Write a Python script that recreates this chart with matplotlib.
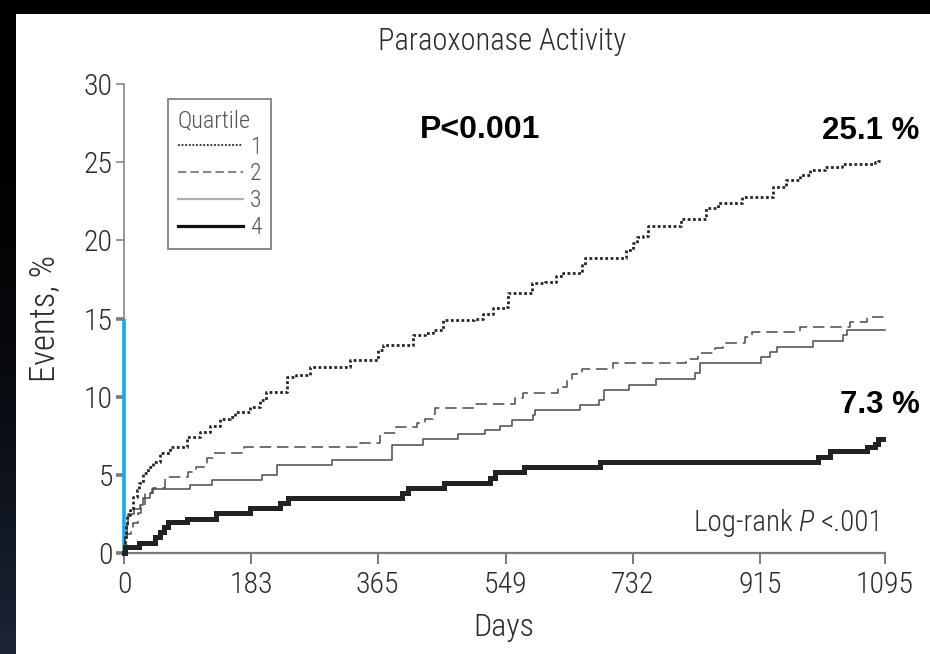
import numpy as np
import matplotlib
matplotlib.use("Agg")
import matplotlib.pyplot as plt
from matplotlib import font_manager as fm
from matplotlib.font_manager import FontProperties
from matplotlib.lines import Line2D
from matplotlib.patches import Rectangle

# ---- fonts: prefer a light/condensed sans for the chart text ----------------
def _pick_condensed(italic=False):
    want_style = "italic" if italic else "normal"
    entries = fm.fontManager.ttflist
    prefs = [
        lambda e: e.name == "Roboto Condensed" and e.weight in (300, "light"),
        lambda e: e.name == "Roboto Condensed" and e.weight in (400, "normal", "regular"),
        lambda e: e.name == "Roboto Condensed",
        lambda e: e.name == "Liberation Sans Narrow",
        lambda e: "Condensed" in e.name and "Open Sans" in e.name,
        lambda e: e.name == "DejaVu Sans" and e.stretch in ("condensed", "semi-condensed")
                  and e.weight in (400, "normal", "book", "regular"),
        lambda e: e.name == "DejaVu Sans" and e.stretch in ("condensed", "semi-condensed"),
    ]
    for pref in prefs:
        hits = [e for e in entries if pref(e)]
        styled = [e for e in hits if e.style == want_style]
        if styled:
            return styled[0].fname
        if hits and not italic:
            return hits[0].fname
    return None

_reg = _pick_condensed()
_ita = _pick_condensed(italic=True)

def nfont(size, italic=False):
    path = _ita if italic else _reg
    if path:
        return FontProperties(fname=path, size=size)
    return FontProperties(family="DejaVu Sans", size=size,
                          style="italic" if italic else "normal")

BOLD = "Liberation Sans"
plt.rcParams["font.family"] = ["DejaVu Sans"]

# ---- data: cumulative events (%) by paraoxonase activity quartile ---------
q1_days = [0, 1, 3, 5, 9, 13, 18, 22, 28, 35, 42, 52, 66, 90, 109, 124, 138,
           153, 160, 181, 196, 205, 234, 248, 268, 325, 366, 373, 416, 433,
           445, 459, 503, 517, 531, 548, 553, 587, 606, 622, 632, 659, 663,
           723, 733, 738, 747, 754, 802, 838, 855, 889, 934, 953, 973, 987,
           1009, 1033, 1080, 1085, 1090]
q1_vals = [0, 1.0, 1.8, 2.4, 2.75, 3.6, 4.0, 4.5, 5.1, 5.5, 5.84, 6.4, 6.8,
           7.45, 7.76, 8.1, 8.6, 8.7, 9.0, 9.36, 9.79, 10.3, 11.28, 11.39,
           11.9, 12.35, 13.0, 13.3, 13.95, 14.05, 14.27, 14.9, 15.0, 15.3,
           15.66, 15.76, 16.6, 17.25, 17.36, 17.7, 17.9, 18.4, 18.85, 19.4,
           19.8, 20.2, 20.3, 20.9, 21.35, 22.05, 22.4, 22.8, 23.4, 23.86,
           24.2, 24.5, 24.7, 24.9, 25.0, 25.1, 25.1]

q2_days = [0, 2, 5, 10, 13, 20, 25, 30, 42, 59, 92, 104, 119, 128, 172, 340,
           368, 392, 421, 433, 445, 447, 507, 563, 574, 625, 637, 644, 659,
           704, 809, 826, 850, 862, 893, 903, 972, 1045, 1069, 1095]
q2_vals = [0, 0.5, 1.2, 1.6, 1.9, 2.54, 2.96, 3.82, 4.14, 4.88, 5.2, 5.52,
           6.06, 6.4, 6.8, 7.06, 7.66, 8.08, 8.3, 8.6, 8.9, 9.25, 9.5, 9.9,
           10.26, 10.6, 11.07, 11.45, 11.8, 12.14, 12.4, 12.77, 13.1, 13.42,
           13.8, 14.14, 14.44, 14.8, 15.08, 15.08]

q3_days = [0, 2, 4, 6, 15, 23, 28, 37, 40, 95, 126, 198, 220, 299, 385, 430,
           480, 520, 541, 558, 589, 591, 656, 683, 690, 726, 766, 822, 829,
           916, 930, 939, 992, 1035, 1040, 1095]
q3_vals = [0, 1.0, 1.8, 2.5, 2.8, 3.07, 3.5, 3.82, 4.08, 4.35, 4.7, 5.0, 5.63,
           5.95, 6.9, 7.3, 7.6, 7.87, 8.1, 8.5, 8.83, 9.15, 9.47, 9.8, 10.45,
           10.75, 11.1, 11.5, 12.15, 12.56, 12.86, 13.2, 13.55, 13.95, 14.27,
           14.27]

q4_days = [0, 2, 21, 45, 52, 57, 64, 90, 133, 181, 224, 236, 400, 409, 460,
           527, 534, 575, 685, 999, 1016, 1069, 1080, 1085, 1092]
q4_vals = [0, 0.4, 0.62, 1.04, 1.36, 1.68, 2.0, 2.2, 2.54, 2.86, 3.18, 3.5,
           3.82, 4.14, 4.5, 4.8, 5.2, 5.52, 5.84, 6.16, 6.5, 6.8, 7.0, 7.3,
           7.3]

x_ticks = [0, 183, 365, 549, 732, 915, 1095]
y_ticks = [0, 5, 10, 15, 20, 25, 30]
quartile_labels = ["1", "2", "3", "4"]

# ---- figure & framing --------------------------------------------------
W, H = 930, 654
fig = plt.figure(figsize=(W / 100, H / 100), dpi=100)
fig.patch.set_facecolor("black")

left_px, top_px = 15, 14
fig.add_artist(Rectangle((left_px / W, 0), 1 - left_px / W, 1 - top_px / H,
                         transform=fig.transFigure, facecolor="white",
                         edgecolor="none", zorder=0))

# dark strip on the left edge fading to navy at the bottom
strip = fig.add_axes([0, 0, left_px / W, 1 - top_px / H])
ramp = np.linspace(0, 1, 256) ** 2.2
top_c = np.array([0, 0, 0])
bot_c = np.array([0x1c, 0x26, 0x38]) / 255
grad = (top_c[None, :] * (1 - ramp[:, None]) + bot_c[None, :] * ramp[:, None])
strip.imshow(grad[:, None, :], aspect="auto", extent=[0, 1, 0, 1], origin="upper")
strip.set_axis_off()

ax_l, ax_r = 124 / W, 885 / W
ax_b, ax_t = 1 - 553 / H, 1 - 84 / H
ax = fig.add_axes([ax_l, ax_b, ax_r - ax_l, ax_t - ax_b])
ax.set_facecolor("none")
ax.set_xlim(0, 1095)
ax.set_ylim(0, 30)

# ---- curves ------------------------------------------------------------
ax.step(q3_days, q3_vals, where="post", color="#4a4a4a", lw=1.1,
        clip_on=False, zorder=3)
ax.step(q2_days, q2_vals, where="post", color="#4a4a4a", lw=1.1,
        dashes=(7.5, 3.8), clip_on=False, zorder=3)
ax.step(q1_days, q1_vals, where="post", color="#262626", lw=2.0,
        dashes=(1, 0.9), dash_capstyle="butt", clip_on=False, zorder=4)
ax.step(q4_days, q4_vals, where="post", color="#222222", lw=3.6,
        clip_on=False, zorder=5, solid_joinstyle="miter")

# ---- axes styling ------------------------------------------------------
GRAY = "#7a7a7a"
CYAN = "#0aaeea"
TXT = "#2b2b2b"
for s in ("top", "right"):
    ax.spines[s].set_visible(False)
ax.spines["bottom"].set_color(GRAY)
ax.spines["bottom"].set_linewidth(1.6)
ax.spines["left"].set_color(GRAY)
ax.spines["left"].set_linewidth(1.1)
ax.spines["left"].set_bounds(15, 30)
ax.plot([0, 0], [0, 15], color=CYAN, lw=2.6, clip_on=False, zorder=2,
        solid_capstyle="butt")

ax.set_xticks(x_ticks)
ax.set_xticklabels([str(t) for t in x_ticks], fontproperties=nfont(21.5))
ax.set_yticks(y_ticks)
ax.set_yticklabels([str(t) for t in y_ticks], fontproperties=nfont(21.5))
ax.tick_params(axis="x", direction="out", length=8, width=1.1, colors="#555555",
               labelcolor=TXT, pad=5)
ax.tick_params(axis="y", direction="out", length=6, width=1.1, colors=GRAY,
               labelcolor=TXT, pad=2)
for tick, val in zip(ax.yaxis.get_major_ticks(), y_ticks):
    if val <= 15:
        tick.tick1line.set_color(CYAN)
        tick.tick1line.set_markeredgewidth(2.6)

# ---- labels ------------------------------------------------------------
fig.text(502 / W, 1 - 42 / H, "Paraoxonase Activity", ha="center", va="center",
         fontproperties=nfont(22), color=TXT)
fig.text(44 / W, 1 - 319 / H, "Events, %", ha="center", va="center",
         rotation=90, fontproperties=nfont(25), color=TXT)
fig.text(504 / W, 1 - 628 / H, "Days", ha="center", va="center",
         fontproperties=nfont(23), color=TXT)

ax.text(512, 27.06, "P<0.001", ha="center", va="center", fontsize=23,
        fontweight="bold", family=BOLD, color="black")
ax.text(1145, q1_vals[-1] + 1.9, f"{q1_vals[-1]:.1f} %", ha="right",
        va="center", fontsize=22.5, fontweight="bold", family=BOLD,
        color="black", clip_on=False)
ax.text(1145, q4_vals[-1] + 2.15, f"{q4_vals[-1]:.1f} %", ha="right",
        va="center", fontsize=22.5, fontweight="bold", family=BOLD,
        color="black", clip_on=False)

# "Log-rank P <.001" with an italic P, assembled right to left
fig.canvas.draw()
renderer = fig.canvas.get_renderer()
x_end, y_base = 1092, 1.4
parts = [("<.001", False), ("P ", True), ("Log-rank ", False)]
x_disp, y_disp = ax.transData.transform((x_end, y_base))
for txt, ital in parts:
    t = fig.text(x_disp / W, y_disp / H, txt, ha="right", va="baseline",
                 fontproperties=nfont(21, ital), color=TXT)
    x_disp -= t.get_window_extent(renderer).width

# ---- legend ------------------------------------------------------------
handles = [
    Line2D([], [], color="#262626", lw=1.3, dashes=(1, 1)),
    Line2D([], [], color="#888888", lw=1.5, dashes=(4, 2)),
    Line2D([], [], color="#b0b0b0", lw=1.6),
    Line2D([], [], color="#111111", lw=2.3),
]
leg = ax.legend(handles, quartile_labels, title="Quartile", loc="upper left",
                bbox_to_anchor=(168 / W, 1 - 99 / H),
                bbox_transform=fig.transFigure, borderaxespad=0,
                prop=nfont(17), title_fontproperties=nfont(17.5), alignment="left",
                handlelength=2.75, handletextpad=0.3, labelspacing=0.16,
                borderpad=0.42, fancybox=False, framealpha=1, edgecolor="#8a8a8a")
leg.get_frame().set_linewidth(1.4)
leg.get_title().set_color("#555555")
for t in leg.get_texts():
    t.set_color("#555555")

fig.savefig("out.png", dpi=100, facecolor=fig.get_facecolor())
